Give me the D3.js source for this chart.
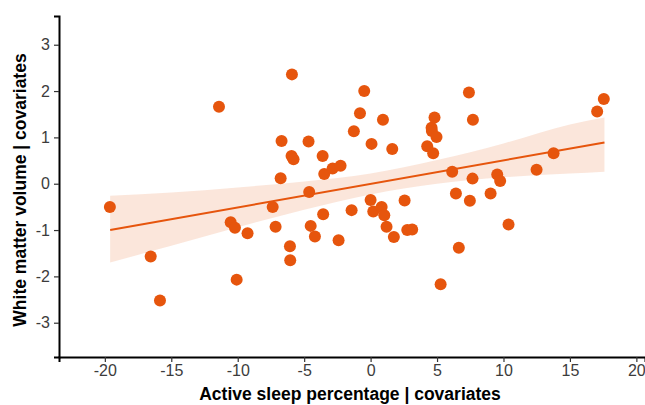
<!DOCTYPE html>
<html>
<head>
<meta charset="utf-8">
<script src="https://cdn.jsdelivr.net/npm/d3@7"></script>
<style>
  body { margin: 0; background: #fff; }
  svg { display: block; font-family: "Liberation Sans", Arial, sans-serif; }
</style>
</head>
<body>
<div id="chart"></div>
<script>
// Partial residuals
const sleepX = [
  -19.62, -16.55, -15.85, -11.41, -10.53, -10.21, -9.26, -10.08, -7.37, -7.15,
  -6.77, -6.70, -6.07, -6.05, -5.95, -5.80, -5.92, -4.67, -4.62, -4.51,
  -4.19, -3.61, -3.57, -3.49, -2.86, -2.26, -2.41, -1.43, -1.26, -0.80,
  -0.48, 0.07, 0.00, 0.20, 0.83, 0.93, 1.03, 1.20, 1.63, 1.75,
  2.56, 2.76, 3.13, 4.26, 4.59, 4.61, 4.71, 4.81, 4.96, 5.27,
  6.14, 6.42, 6.64, 7.40, 7.47, 7.67, 7.70, 9.03, 9.53, 9.75,
  10.38, 12.49, 13.77, 17.05, 17.55
];
const volumeY = [
  -0.50, -1.57, -2.52, 1.66, -0.83, -0.95, -1.07, -2.07, -0.50, -0.93,
  0.12, 0.92, -1.35, -1.65, 0.60, 0.53, 2.36, 0.91, -0.18, -0.91,
  -1.14, 0.60, -0.66, 0.21, 0.33, 0.39, -1.22, -0.57, 1.13, 1.52,
  2.00, 0.86, -0.35, -0.60, -0.50, 1.38, -0.68, -0.93, 0.75, -1.15,
  -0.36, -1.00, -0.99, 0.81, 1.21, 1.14, 0.66, 1.43, 1.01, -2.17,
  0.26, -0.21, -1.38, 1.97, -0.37, 0.11, 1.38, -0.21, 0.20, 0.06,
  -0.88, 0.30, 0.66, 1.56, 1.83
];

// Fitted line and confidence band
const fitX = [-19.6, 17.6];
const fitY = [-1.0, 0.89];
const bandX = [-19.6, -15, -10, -5, 0, 5, 10, 15, 17.6];
const bandLow = [-1.70, -1.34, -0.94, -0.56, -0.23, 0.00, 0.14, 0.22, 0.26];
const bandHigh = [-0.26, -0.19, -0.08, 0.05, 0.22, 0.51, 0.87, 1.28, 1.43];

const xTicks = [-20, -15, -10, -5, 0, 5, 10, 15, 20];
const yTicks = [-3, -2, -1, 0, 1, 2, 3];

const width = 645;
const height = 405;
const orange = "#e6550d";

const svg = d3.select("#chart")
  .append("svg")
  .attr("width", width)
  .attr("height", height);

// Scales
const x = d3.scaleLinear().domain([-23.45, 20.65]).range([59, 645]);
const y = d3.scaleLinear().domain([-3.74, 3.62]).range([357, 16]);

// Confidence band
const band = bandX.map((d, i) => ({ x: d, lo: bandLow[i], hi: bandHigh[i] }));
svg.append("path")
  .datum(band)
  .attr("fill", orange)
  .attr("fill-opacity", 0.15)
  .attr("d", d3.area()
    .x(d => x(d.x))
    .y0(d => y(d.lo))
    .y1(d => y(d.hi))
    .curve(d3.curveMonotoneX));

// Fit line
svg.append("path")
  .datum(fitX.map((d, i) => [d, fitY[i]]))
  .attr("fill", "none")
  .attr("stroke", orange)
  .attr("stroke-width", 2)
  .attr("d", d3.line().x(d => x(d[0])).y(d => y(d[1])));

// Points
svg.selectAll("circle.pt")
  .data(sleepX.map((d, i) => [d, volumeY[i]]))
  .join("circle")
  .attr("class", "pt")
  .attr("cx", d => x(d[0]))
  .attr("cy", d => y(d[1]))
  .attr("r", 6)
  .attr("fill", orange);

// Axes (plain hyphen for negatives, like the original)
const xAxis = svg.append("g")
  .attr("transform", "translate(0,357)")
  .call(d3.axisBottom(x).tickValues(xTicks).tickFormat(d => String(d)).tickSize(5).tickPadding(3));
const yAxis = svg.append("g")
  .attr("transform", "translate(59,0)")
  .call(d3.axisLeft(y).tickValues(yTicks).tickFormat(d => String(d)).tickSize(5).tickPadding(4));

[xAxis, yAxis].forEach(g => {
  g.select(".domain").attr("stroke", "#000").attr("stroke-width", 2);
  g.selectAll(".tick line").attr("stroke", "#333").attr("stroke-width", 1.2);
  g.selectAll(".tick text")
    .attr("fill", "#3c3c3c")
    .style("font-size", "16px")
    .style("font-family", "'Liberation Sans', Arial, sans-serif");
});

// Axis titles
svg.append("text")
  .attr("x", 350)
  .attr("y", 400)
  .attr("text-anchor", "middle")
  .style("font-size", "17.5px")
  .style("font-weight", "bold")
  .attr("fill", "#000")
  .text("Active sleep percentage | covariates");

svg.append("text")
  .attr("transform", "translate(26,190) rotate(-90)")
  .attr("text-anchor", "middle")
  .style("font-size", "17.5px")
  .style("font-weight", "bold")
  .attr("fill", "#000")
  .text("White matter volume | covariates");
</script>
</body>
</html>
